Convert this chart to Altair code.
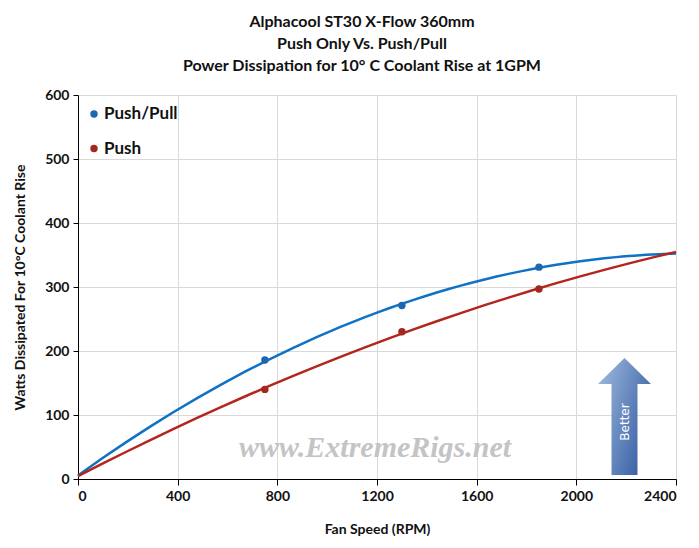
import altair as alt
import pandas as pd

# ---- data ----
rpm = [0, 750, 1300, 1850]
push_pull = [5, 186, 271, 331]
push = [5, 140, 230, 297]
series_names = ["Push/Pull", "Push"]
line_colors = ["#0f72c4", "#b3261e"]
point_colors = ["#1c67b0", "#a3261f"]
x_ticks = [0, 400, 800, 1200, 1600, 2000, 2400]
y_ticks = list(range(0, 601, 50))
title_lines = ["Alphacool  ST30 X-Flow 360mm", "Push Only Vs. Push/Pull",
               "Power Dissipation  for 10° C Coolant Rise at 1GPM"]
watermark = ["www.ExtremeRigs.net"]
better = ["Better"]

df = pd.DataFrame({
    "rpm": rpm * 2,
    "watts": push_pull + push,
    "series": [series_names[0]] * len(rpm) + [series_names[1]] * len(rpm),
})

FONT = "Lato"
W, H = 598, 384

x_enc = alt.X("rpm:Q",
              scale=alt.Scale(domain=[0, 2400], nice=False, zero=True),
              axis=alt.Axis(values=x_ticks, title="Fan Speed (RPM)", format="d",
                            gridColor="#d9d9d9", tickSize=6, tickColor="#000",
                            domainColor="#000", labelPadding=4, titlePadding=19,
                            titleFontSize=14))
y_enc = alt.Y("watts:Q",
              scale=alt.Scale(domain=[0, 600], nice=False),
              axis=alt.Axis(values=y_ticks, title="Watts Dissipated For 10°C Coolant Rise",
                            labelExpr="datum.value % 100 === 0 ? datum.label : ''",
                            gridColor=alt.condition("datum.value % 100 === 0",
                                                    alt.value("#d9d9d9"), alt.value("#efefef")),
                            tickOpacity=alt.condition("datum.value % 100 === 0",
                                                      alt.value(1), alt.value(0)),
                            tickSize=5, tickColor="#000", domainColor="#000",
                            labelPadding=4, titlePadding=17, titleFontSize=14))

base = alt.Chart(df)

lines = base.transform_regression(
    "rpm", "watts", groupby=["series"], method="poly", order=2, extent=[0, 2400]
).mark_line(strokeWidth=2.5).encode(
    x=x_enc, y=y_enc,
    color=alt.Color("series:N", scale=alt.Scale(domain=series_names, range=line_colors),
                    legend=None),
)

points = base.transform_filter("datum.rpm > 0").mark_point(
    filled=True, size=55, opacity=1
).encode(
    x="rpm:Q", y="watts:Q",
    fill=alt.Fill("series:N", scale=alt.Scale(domain=series_names, range=point_colors),
                  legend=None),
)

# legend drawn as marks, one row per series
legend_layers = []
for i, (name, col) in enumerate(zip(series_names, point_colors)):
    ldf = pd.DataFrame({"t": [name]})
    legend_layers.append(alt.Chart(ldf).mark_point(
        filled=True, size=55, opacity=1, color=col, shape="circle"
    ).encode(x=alt.value(16), y=alt.value(19 + 34.5 * i)))
    legend_layers.append(alt.Chart(ldf).mark_text(
        font=FONT, fontSize=17, fontWeight="bold", color="#111",
        align="left", baseline="middle"
    ).encode(text="t:N", x=alt.value(26), y=alt.value(19 + 34.5 * i)))

wm = alt.Chart(pd.DataFrame({"t": watermark})).mark_text(
    font="Liberation Serif", fontStyle="italic", fontWeight="bold", fontSize=30,
    color="#c4c4c4", align="center", baseline="middle"
).encode(text="t:N", x=alt.value(297), y=alt.value(353))

ARROW = ("M 0 -1 L 0.453 -0.556 L 0.222 -0.556 L 0.222 1 L -0.222 1 "
         "L -0.222 -0.556 L -0.453 -0.556 Z")
arrow = alt.Chart(pd.DataFrame({"t": better})).mark_point(
    shape=ARROW, size=117 * 117, filled=True, opacity=1, strokeOpacity=0,
    fill=alt.Gradient(gradient="linear",
                      stops=[alt.GradientStop(color="#a4bde0", offset=0),
                             alt.GradientStop(color="#3a62a5", offset=1)],
                      x1=0, x2=1, y1=0, y2=0.6)
).encode(x=alt.value(546.5), y=alt.value(321.5))

better_txt = alt.Chart(pd.DataFrame({"t": better})).mark_text(
    font="DejaVu Sans", fontSize=12, color="white", angle=270,
    align="center", baseline="middle"
).encode(text="t:N", x=alt.value(547), y=alt.value(327))

chart = alt.layer(lines, points, *legend_layers, wm, arrow, better_txt).properties(
    width=W, height=H,
    autosize="none",
    padding={"left": 70, "top": 87, "right": 15, "bottom": 61},
    title=alt.TitleParams(title_lines, anchor="middle", font=FONT, fontSize=16,
                          fontWeight="bold", color="#111", lineHeight=22, offset=14, dx=-15),
).configure_view(stroke=None).configure_axis(
    labelFont=FONT, labelFontSize=14, labelFontWeight="bold", labelColor="#111",
    titleFont=FONT, titleFontSize=13, titleFontWeight="bold", titleColor="#111",
)

chart.save("out.html", embed_options={"renderer": "svg", "actions": False})
